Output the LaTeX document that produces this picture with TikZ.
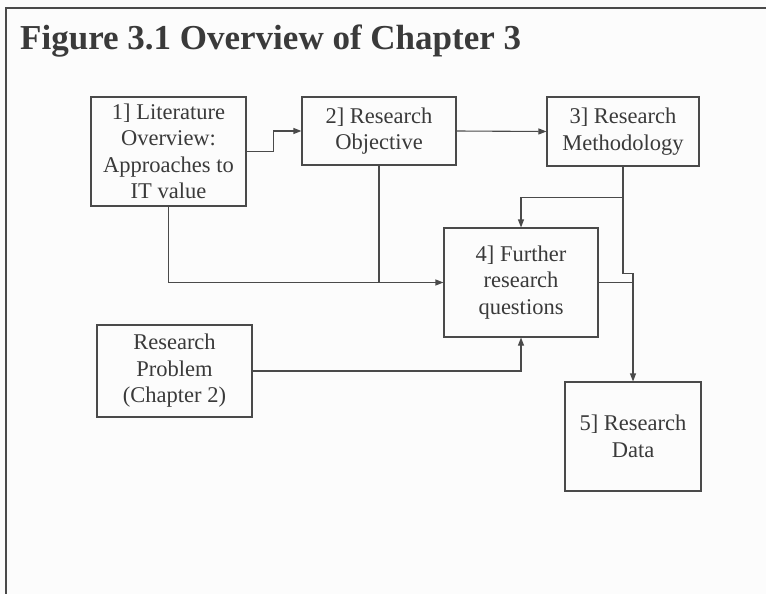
\documentclass[tikz,border=0pt]{standalone}
\usepackage{fontspec}
\setmainfont{Liberation Serif}
\usetikzlibrary{arrows.meta}
\definecolor{ink}{HTML}{3A3A3A}
\definecolor{rule}{HTML}{4A4A4A}
\definecolor{paper}{HTML}{FCFCFC}
\begin{document}
\begin{tikzpicture}[x=1pt,y=-1pt,
  box/.style={draw=rule,line width=1.1pt,inner sep=0pt,align=center,text=ink,
    font=\fontsize{22.5}{26.5}\selectfont},
  link/.style={draw=rule,line width=1.1pt},
  arr/.style={link,-{Triangle[length=8pt,width=6pt]}}]
  % page and frame
  \fill[paper] (0,0) rectangle (766,594);
  \useasboundingbox (0,0) rectangle (766,594);
  \draw[rule,line width=1.5pt] (766,8) -- (6,8) -- (6,594);
  % title
  \node[anchor=base west,inner sep=0pt,text=ink,font=\fontsize{35}{40}\selectfont\bfseries]
    (title) at (20,50) {Figure 3.1 Overview of Chapter 3};
  % boxes
  \node[box,minimum width=155pt,minimum height=109pt] (b1) at (168.5,151.5)
    {1] Literature\\Overview:\\Approaches to\\IT value};
  \node[box,minimum width=154pt,minimum height=68pt] (b2) at (379,131)
    {2] Research\\Objective};
  \node[box,minimum width=152pt,minimum height=69pt] (b3) at (623,131.5)
    {3] Research\\Methodology};
  \node[box,minimum width=154pt,minimum height=109pt] (b4) at (521,282.5)
    {4] Further\\research\\questions};
  \node[box,minimum width=155pt,minimum height=92pt] (rp) at (174.5,371)
    {Research\\Problem\\(Chapter 2)};
  \node[box,minimum width=136pt,minimum height=109pt] (b5) at (633,436.5)
    {5] Research\\Data};
  % connectors (y grows downward here)
  \draw[arr] (b1.east) -- ++(27,0) |- (b2.west);
  \draw[arr] (b2.east) -- (b3.west);
  \draw[arr] (b1.south) |- (b4.west);
  \draw[link] (b2.south) -- (b2.south |- b4.west);
  \draw[arr] (b3.south) -- ++(0,31) -| (b4.north);
  \draw[arr] (b3.south) -- ++(0,107) -| (b5.north);
  \draw[link] (b4.east) -- (b4.east -| b5.north);
  \draw[arr] (rp.east) -| (b4.south);
\end{tikzpicture}
\end{document}
